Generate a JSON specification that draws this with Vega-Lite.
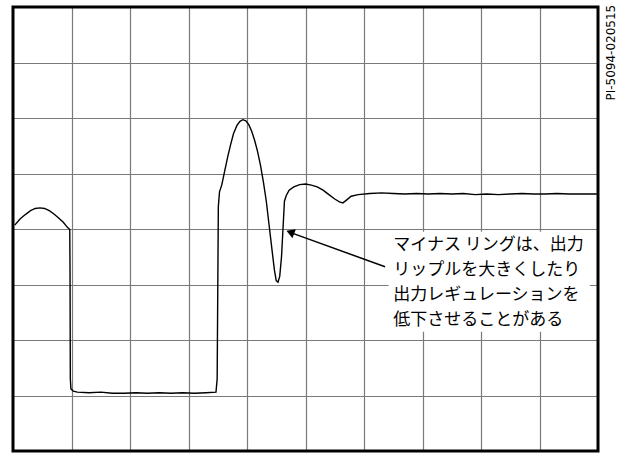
{
  "$schema": "https://vega.github.io/schema/vega-lite/v6.json",
  "width": 585,
  "height": 444,
  "autosize": {"type": "none"},
  "padding": {"left": 13, "top": 7, "right": 25, "bottom": 3},
  "background": "white",
  "view": {"stroke": null},
  "config": {
    "axis": {"grid": true, "gridColor": "#7a7a7a", "gridWidth": 1.2, "gridOpacity": 1, "labels": false, "ticks": false, "domain": false, "title": null}
  },
  "datasets": {
    "trace": [
      {"t": 0.03, "v": 4.07}, {"t": 0.12, "v": 4.18}, {"t": 0.21, "v": 4.26}, {"t": 0.3, "v": 4.33},
      {"t": 0.38, "v": 4.37}, {"t": 0.46, "v": 4.38}, {"t": 0.54, "v": 4.37}, {"t": 0.62, "v": 4.33},
      {"t": 0.7, "v": 4.27}, {"t": 0.78, "v": 4.2}, {"t": 0.86, "v": 4.12}, {"t": 0.93, "v": 4.03},
      {"t": 0.97, "v": 3.99}, {"t": 0.975, "v": 3.2}, {"t": 0.98, "v": 1.3}, {"t": 0.99, "v": 1.12},
      {"t": 1.03, "v": 1.08}, {"t": 1.1, "v": 1.06}, {"t": 1.3, "v": 1.05}, {"t": 1.5, "v": 1.06},
      {"t": 1.7, "v": 1.04}, {"t": 1.9, "v": 1.04}, {"t": 2.1, "v": 1.05}, {"t": 2.3, "v": 1.04},
      {"t": 2.5, "v": 1.05}, {"t": 2.7, "v": 1.04}, {"t": 2.9, "v": 1.05}, {"t": 3.1, "v": 1.04},
      {"t": 3.3, "v": 1.05}, {"t": 3.47, "v": 1.06}, {"t": 3.49, "v": 1.3}, {"t": 3.51, "v": 4.4},
      {"t": 3.53, "v": 4.67}, {"t": 3.57, "v": 4.8}, {"t": 3.62, "v": 5.05}, {"t": 3.67, "v": 5.3},
      {"t": 3.72, "v": 5.52}, {"t": 3.77, "v": 5.72}, {"t": 3.83, "v": 5.87}, {"t": 3.88, "v": 5.94},
      {"t": 3.93, "v": 5.97}, {"t": 3.98, "v": 5.95}, {"t": 4.03, "v": 5.88}, {"t": 4.08, "v": 5.76},
      {"t": 4.13, "v": 5.6}, {"t": 4.18, "v": 5.4}, {"t": 4.23, "v": 5.15}, {"t": 4.28, "v": 4.85},
      {"t": 4.33, "v": 4.5}, {"t": 4.38, "v": 4.05}, {"t": 4.43, "v": 3.6}, {"t": 4.47, "v": 3.25},
      {"t": 4.5, "v": 3.07}, {"t": 4.53, "v": 3.04}, {"t": 4.56, "v": 3.15}, {"t": 4.59, "v": 3.5},
      {"t": 4.62, "v": 4.1}, {"t": 4.64, "v": 4.5}, {"t": 4.67, "v": 4.6}, {"t": 4.72, "v": 4.7},
      {"t": 4.8, "v": 4.76}, {"t": 4.9, "v": 4.8}, {"t": 5.0, "v": 4.81}, {"t": 5.1, "v": 4.79},
      {"t": 5.2, "v": 4.76}, {"t": 5.3, "v": 4.7}, {"t": 5.4, "v": 4.62}, {"t": 5.5, "v": 4.54},
      {"t": 5.58, "v": 4.49}, {"t": 5.64, "v": 4.47}, {"t": 5.7, "v": 4.52}, {"t": 5.78, "v": 4.59},
      {"t": 5.9, "v": 4.62}, {"t": 6.1, "v": 4.64}, {"t": 6.3, "v": 4.65}, {"t": 6.5, "v": 4.64},
      {"t": 6.7, "v": 4.63}, {"t": 6.9, "v": 4.64}, {"t": 7.1, "v": 4.63}, {"t": 7.3, "v": 4.64},
      {"t": 7.5, "v": 4.63}, {"t": 7.7, "v": 4.64}, {"t": 7.9, "v": 4.62}, {"t": 8.1, "v": 4.63},
      {"t": 8.3, "v": 4.62}, {"t": 8.5, "v": 4.63}, {"t": 8.7, "v": 4.64}, {"t": 8.9, "v": 4.63},
      {"t": 9.1, "v": 4.63}, {"t": 9.3, "v": 4.64}, {"t": 9.5, "v": 4.63}, {"t": 9.7, "v": 4.63},
      {"t": 9.98, "v": 4.63}
    ],
    "frame": [{"x1": 0, "x2": 10, "y1": 0, "y2": 8}],
    "box": [{"x1": 6.42, "x2": 9.86, "y1": 2.15, "y2": 3.95}],
    "arrow": [{"x1": 6.36, "y1": 3.32, "x2": 4.76, "y2": 3.93}],
    "head": [{"x": 4.74, "y": 3.94}],
    "notes": [
      {"x": 6.5, "y": 3.71, "text": "マイナス リングは、出力"},
      {"x": 6.5, "y": 3.26, "text": "リップルを大きくしたり"},
      {"x": 6.5, "y": 2.81, "text": "出力レギュレーションを"},
      {"x": 6.5, "y": 2.36, "text": "低下させることがある"}
    ],
    "id": [{"x": 10.22, "y": 8.04, "text": "PI-5094-020515"}]
  },
  "layer": [
    {
      "data": {"name": "trace"},
      "mark": {"type": "line", "color": "black", "strokeWidth": 1.4},
      "encoding": {
        "x": {"field": "t", "type": "quantitative", "scale": {"domain": [0, 10], "nice": false, "zero": false}, "axis": {"values": [1,2,3,4,5,6,7,8,9]}},
        "y": {"field": "v", "type": "quantitative", "scale": {"domain": [0, 8], "nice": false, "zero": false}, "axis": {"values": [1,2,3,4,5,6,7]}}
      }
    },
    {
      "data": {"name": "frame"},
      "mark": {"type": "rect", "fill": null, "fillOpacity": 0, "stroke": "black", "strokeWidth": 3},
      "encoding": {
        "x": {"field": "x1", "type": "quantitative"},
        "x2": {"field": "x2"},
        "y": {"field": "y1", "type": "quantitative"},
        "y2": {"field": "y2"}
      }
    },
    {
      "data": {"name": "box"},
      "mark": {"type": "rect", "fill": "white"},
      "encoding": {
        "x": {"field": "x1", "type": "quantitative"},
        "x2": {"field": "x2"},
        "y": {"field": "y1", "type": "quantitative"},
        "y2": {"field": "y2"}
      }
    },
    {
      "data": {"name": "arrow"},
      "mark": {"type": "rule", "color": "black", "strokeWidth": 1.5},
      "encoding": {
        "x": {"field": "x1", "type": "quantitative"},
        "y": {"field": "y1", "type": "quantitative"},
        "x2": {"field": "x2"},
        "y2": {"field": "y2"}
      }
    },
    {
      "data": {"name": "head"},
      "mark": {"type": "point", "shape": "triangle-up", "filled": true, "color": "black", "size": 90, "angle": 291, "opacity": 1},
      "encoding": {
        "x": {"field": "x", "type": "quantitative"},
        "y": {"field": "y", "type": "quantitative"}
      }
    },
    {
      "data": {"name": "notes"},
      "mark": {"type": "text", "align": "left", "baseline": "middle", "font": "Noto Sans CJK JP", "fontSize": 17, "color": "black"},
      "encoding": {
        "x": {"field": "x", "type": "quantitative"},
        "y": {"field": "y", "type": "quantitative"},
        "text": {"field": "text"}
      }
    },
    {
      "data": {"name": "id"},
      "mark": {"type": "text", "angle": 270, "align": "right", "baseline": "middle", "font": "DejaVu Sans", "fontSize": 12, "color": "black"},
      "encoding": {
        "x": {"field": "x", "type": "quantitative"},
        "y": {"field": "y", "type": "quantitative"},
        "text": {"field": "text"}
      }
    }
  ]
}
